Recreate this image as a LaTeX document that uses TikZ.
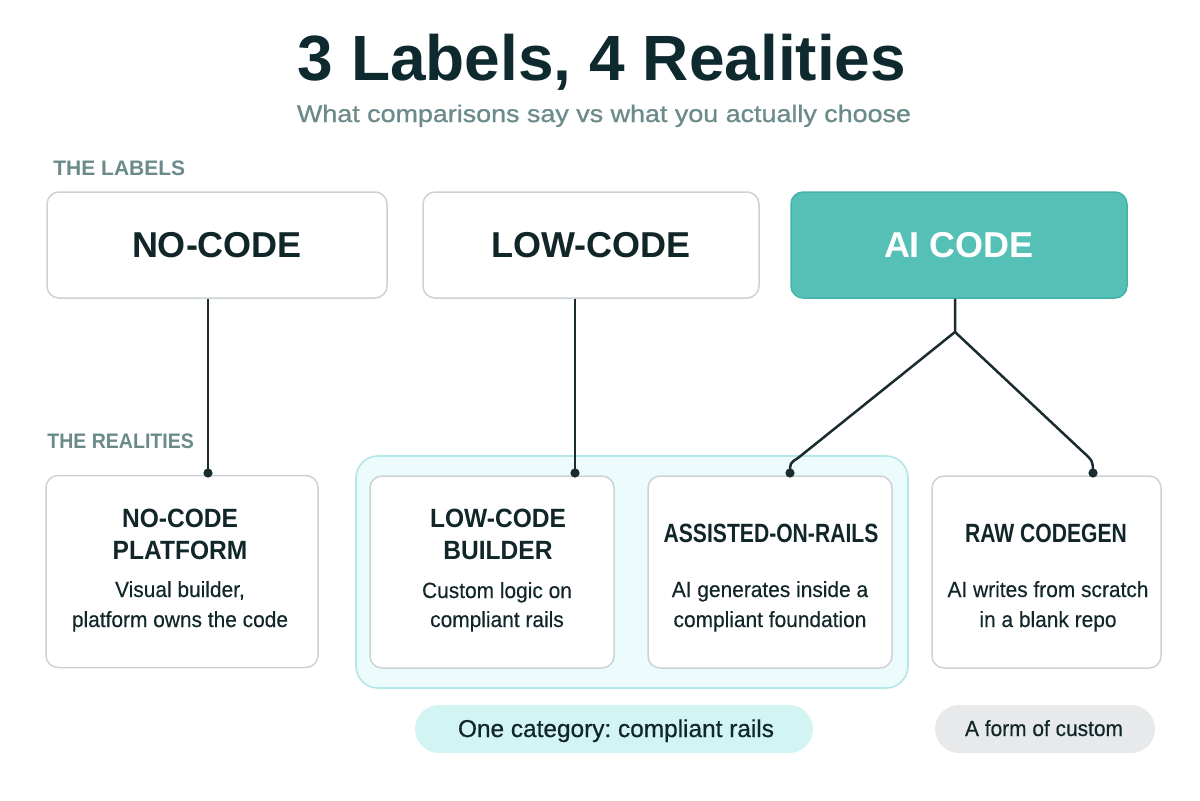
\documentclass[tikz,border=0pt]{standalone}
\usepackage{fontspec}
\setmainfont{Liberation Sans}
\newfontfamily\nfont{Liberation Sans}[FakeStretch=0.93]
\newfontfamily\cfont{Liberation Sans}[FakeStretch=0.8]
\newfontfamily\wfont{Liberation Sans}[FakeStretch=1.12, FakeBold=0.9]
\newfontfamily\mfont{Liberation Sans}[FakeBold=0.6]
\newfontfamily\dfont{Liberation Sans}[FakeStretch=0.95, FakeBold=0.3]
\usetikzlibrary{calc}
\definecolor{ink}{HTML}{0E2A2F}
\definecolor{boxtext}{HTML}{112628}
\definecolor{muted}{HTML}{6B8A8A}
\definecolor{boxline}{HTML}{CDD2D6}
\definecolor{tealfill}{HTML}{54C0B6}
\definecolor{tealline}{HTML}{46B3A8}
\definecolor{grpfill}{HTML}{ECFBFB}
\definecolor{grpline}{HTML}{B3E6E6}
\definecolor{pillA}{HTML}{D2F4F2}
\definecolor{pillB}{HTML}{E8E9EB}
\definecolor{conncol}{HTML}{1B2C30}
\begin{document}
\frenchspacing
\begin{tikzpicture}[x=0.5pt,y=-0.5pt,
  txt/.style={inner sep=0pt, anchor=base, text=boxtext},
  lbox/.style={draw=boxline, line width=0.75pt, fill=white, rounded corners=6pt, inner sep=0pt,
    font=\bfseries\fontsize{18}{20}\selectfont, text=boxtext},
  tealbox/.style={lbox, draw=tealline, fill=tealfill, text=white},
  rbox/.style={draw=boxline, line width=0.75pt, fill=white, rounded corners=6pt, inner sep=0pt, minimum height=96pt},
  grpbox/.style={draw=grpline, line width=0.8pt, fill=grpfill, rounded corners=11pt, inner sep=0pt},
  pill/.style={rounded corners=12pt, inner sep=0pt, minimum height=24pt},
  rtitle/.style={txt, font=\nfont\bfseries\fontsize{13.2}{15}\selectfont},
  ctitle/.style={txt, font=\cfont\bfseries\fontsize{13.2}{15}\selectfont},
  rdesc/.style={txt, font=\dfont\fontsize{11}{12}\selectfont},
  section/.style={inner sep=0pt, anchor=base west, text=muted, font=\bfseries\fontsize{10.5}{12}\selectfont},
  conn/.style={draw=conncol, line width=1.25pt},
  dot/.style={fill=conncol}
]
\path[use as bounding box, fill=white] (0,0) rectangle (1200,800);

% title
\node[txt, text=ink, font=\bfseries\fontsize{32}{38}\selectfont] (title) at (602,80) {3 Labels, 4 Realities};
\node[txt, text=muted, font=\wfont\fontsize{12}{14}\selectfont] (subtitle) at (604,122) {What comparisons say vs what you actually choose};

% section labels
\node[section] (seclabels) at (53,175) {THE LABELS};
\node[section, font=\nfont\bfseries\fontsize{10.5}{12}\selectfont] (secreal) at (47,448) {THE REALITIES};

% top boxes
\node[lbox, minimum width=170pt, minimum height=53pt] (nocode) at (217,245) {NO-CODE};
\node[lbox, minimum width=168pt, minimum height=53pt] (lowcode) at (591,245) {LOW-CODE};
\node[tealbox, minimum width=168pt, minimum height=53pt] (aicode) at (959,245) {AI CODE};

% group
\node[grpbox, minimum width=276pt, minimum height=116pt] (grp) at (632,572) {};

% bottom boxes
\node[rbox, minimum width=136pt] (ncp) at (182,571.5) {};
\node[rbox, minimum width=122pt] (lcb) at (492,572) {};
\node[rbox, minimum width=122pt] (aor) at (770,572) {};
\node[rbox, minimum width=114.5pt] (raw) at (1046.5,572) {};

% bottom texts
\node[rtitle] (ncpT1) at (180,527) {NO-CODE};
\node[rtitle] (ncpT2) at (180,559) {PLATFORM};
\node[rdesc] (ncpD1) at (180,597) {Visual builder,};
\node[rdesc] (ncpD2) at (180,627) {platform owns the code};

\node[rtitle] (lcbT1) at (498,527) {LOW-CODE};
\node[rtitle] (lcbT2) at (498,559) {BUILDER};
\node[rdesc] (lcbD1) at (497,598) {Custom logic on};
\node[rdesc] (lcbD2) at (497,627) {compliant rails};

\node[ctitle] (aorT) at (771,542) {ASSISTED-ON-RAILS};
\node[rdesc] (aorD1) at (770,597) {AI generates inside a};
\node[rdesc] (aorD2) at (770,627) {compliant foundation};

\node[ctitle] (rawT) at (1046,542) {RAW CODEGEN};
\node[rdesc] (rawD1) at (1048,597) {AI writes from scratch};
\node[rdesc] (rawD2) at (1048,627) {in a blank repo};

% pills
\node[pill, fill=pillA, minimum width=199pt] (pillone) at (614,729) {};
\node[txt, font=\mfont\fontsize{12.2}{14}\selectfont] (pillonetext) at (616,737) {One category: compliant rails};
\node[pill, fill=pillB, minimum width=110pt] (pilltwo) at (1045,729) {};
\node[txt, font=\dfont\fontsize{11}{12}\selectfont] (pilltwotext) at (1044,736) {A form of custom};

% connectors
\coordinate (d1) at (208,473);
\coordinate (d2) at (575,473);
\coordinate (j) at (955,332);
\coordinate (bl) at (798,458);
\coordinate (dl) at (790,473);
\coordinate (br) at (1082,451);
\coordinate (dr) at (1093,473);

\draw[conn] (nocode.south -| d1) -- (d1);
\draw[conn] (lowcode.south -| d2) -- (d2);
\draw[conn, line join=round] (aicode.south -| j) -- (j) -- (bl) .. controls (790,463) .. (dl);
\draw[conn, line join=round] (j) -- (br) .. controls (1093,461) .. (dr);
\foreach \p in {d1,d2,dl,dr} \fill[dot] (\p) circle (2.3pt);
\end{tikzpicture}
\end{document}
